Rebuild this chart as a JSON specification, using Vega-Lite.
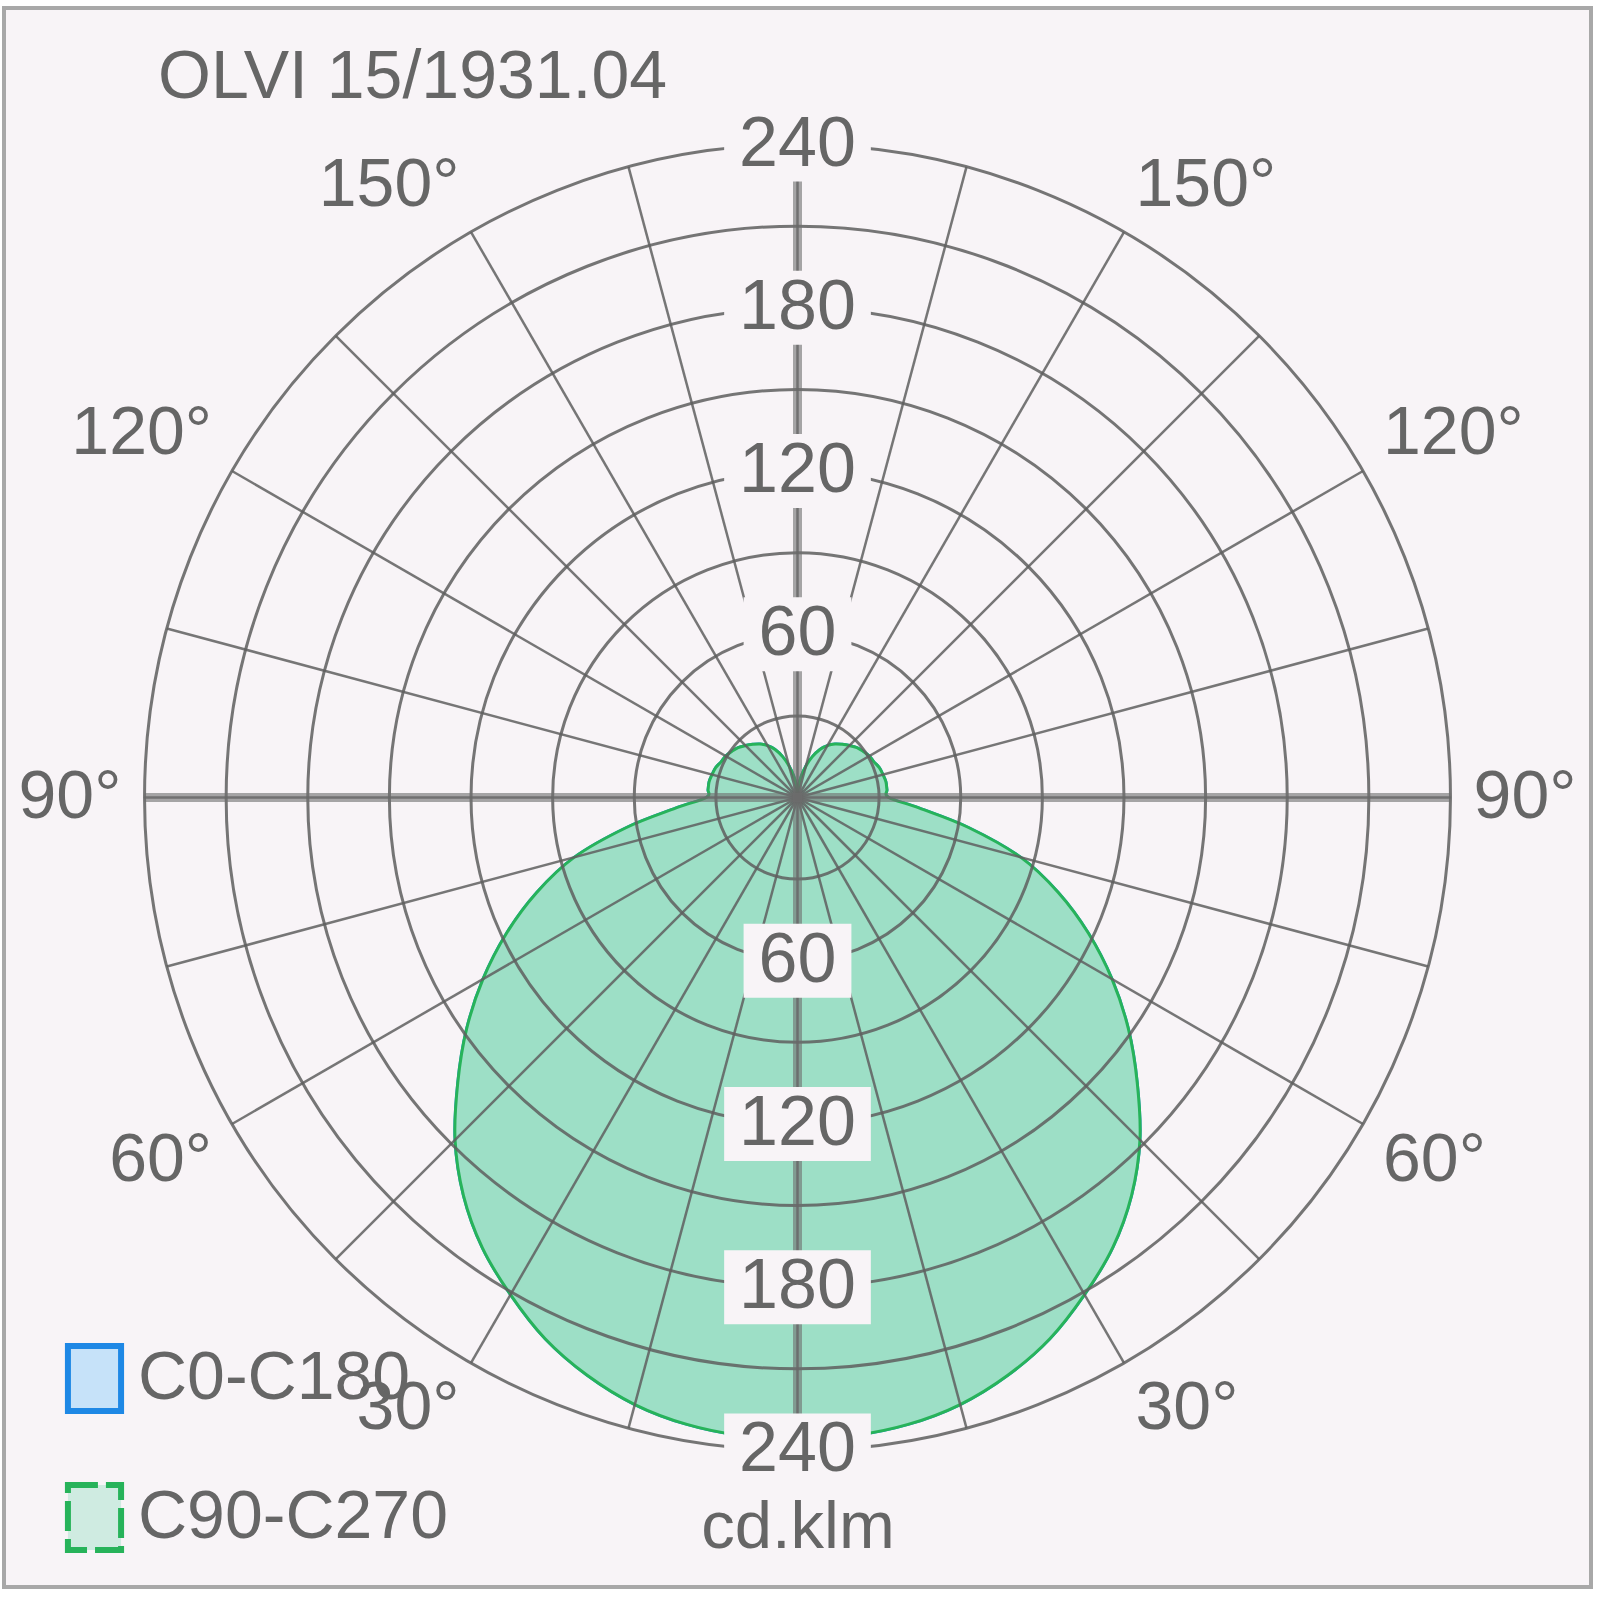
{
  "$schema": "https://vega.github.io/schema/vega-lite/v6.json",
  "width": 1587,
  "height": 1579,
  "autosize": {"type": "none"},
  "padding": {"left": 4, "top": 8, "right": 6, "bottom": 13},
  "background": "#ffffff",
  "config": {
    "view": {"fill": "#f8f4f7", "stroke": "#a8a8a8", "strokeWidth": 4},
    "font": "Liberation Sans",
    "text": {"font": "Liberation Sans"}
  },
  "title": {
    "text": "OLVI 15/1931.04",
    "anchor": "start",
    "frame": "group",
    "orient": "top",
    "offset": 0,
    "dx": 154,
    "dy": 158,
    "fontSize": 68,
    "font": "Liberation Sans",
    "fontWeight": "normal",
    "color": "#666666",
    "baseline": "alphabetic"
  },
  "datasets": {
    "curve": [
      {"angle": -180, "C0-C180": 0, "C90-C270": 0},
      {"angle": -175, "C0-C180": 4, "C90-C270": 4},
      {"angle": -170, "C0-C180": 8, "C90-C270": 8},
      {"angle": -165, "C0-C180": 12, "C90-C270": 12},
      {"angle": -160, "C0-C180": 16, "C90-C270": 16},
      {"angle": -155, "C0-C180": 19.5, "C90-C270": 19.5},
      {"angle": -150, "C0-C180": 22, "C90-C270": 22},
      {"angle": -145, "C0-C180": 24, "C90-C270": 24},
      {"angle": -140, "C0-C180": 25.5, "C90-C270": 25.5},
      {"angle": -135, "C0-C180": 27, "C90-C270": 27},
      {"angle": -130, "C0-C180": 28.5, "C90-C270": 28.5},
      {"angle": -125, "C0-C180": 29.5, "C90-C270": 29.5},
      {"angle": -120, "C0-C180": 30.5, "C90-C270": 30.5},
      {"angle": -115, "C0-C180": 31, "C90-C270": 31},
      {"angle": -110, "C0-C180": 32, "C90-C270": 32},
      {"angle": -105, "C0-C180": 32.5, "C90-C270": 32.5},
      {"angle": -100, "C0-C180": 33, "C90-C270": 33},
      {"angle": -95, "C0-C180": 33, "C90-C270": 33},
      {"angle": -90, "C0-C180": 33.5, "C90-C270": 33.5},
      {"angle": -85, "C0-C180": 45, "C90-C270": 45},
      {"angle": -80, "C0-C180": 64, "C90-C270": 64},
      {"angle": -75, "C0-C180": 85, "C90-C270": 85},
      {"angle": -70, "C0-C180": 102, "C90-C270": 102},
      {"angle": -65, "C0-C180": 118, "C90-C270": 118},
      {"angle": -60, "C0-C180": 133.5, "C90-C270": 133.5},
      {"angle": -55, "C0-C180": 148.5, "C90-C270": 148.5},
      {"angle": -50, "C0-C180": 163, "C90-C270": 163},
      {"angle": -45, "C0-C180": 178, "C90-C270": 178},
      {"angle": -40, "C0-C180": 191, "C90-C270": 191},
      {"angle": -35, "C0-C180": 202, "C90-C270": 202},
      {"angle": -30, "C0-C180": 211, "C90-C270": 211},
      {"angle": -25, "C0-C180": 219.5, "C90-C270": 219.5},
      {"angle": -20, "C0-C180": 226, "C90-C270": 226},
      {"angle": -15, "C0-C180": 231, "C90-C270": 231},
      {"angle": -10, "C0-C180": 234, "C90-C270": 234},
      {"angle": -5, "C0-C180": 235.5, "C90-C270": 235.5},
      {"angle": 0, "C0-C180": 236, "C90-C270": 236},
      {"angle": 5, "C0-C180": 235.5, "C90-C270": 235.5},
      {"angle": 10, "C0-C180": 234, "C90-C270": 234},
      {"angle": 15, "C0-C180": 231, "C90-C270": 231},
      {"angle": 20, "C0-C180": 226, "C90-C270": 226},
      {"angle": 25, "C0-C180": 219.5, "C90-C270": 219.5},
      {"angle": 30, "C0-C180": 211, "C90-C270": 211},
      {"angle": 35, "C0-C180": 202, "C90-C270": 202},
      {"angle": 40, "C0-C180": 191, "C90-C270": 191},
      {"angle": 45, "C0-C180": 178, "C90-C270": 178},
      {"angle": 50, "C0-C180": 163, "C90-C270": 163},
      {"angle": 55, "C0-C180": 148.5, "C90-C270": 148.5},
      {"angle": 60, "C0-C180": 133.5, "C90-C270": 133.5},
      {"angle": 65, "C0-C180": 118, "C90-C270": 118},
      {"angle": 70, "C0-C180": 102, "C90-C270": 102},
      {"angle": 75, "C0-C180": 85, "C90-C270": 85},
      {"angle": 80, "C0-C180": 64, "C90-C270": 64},
      {"angle": 85, "C0-C180": 45, "C90-C270": 45},
      {"angle": 90, "C0-C180": 33.5, "C90-C270": 33.5},
      {"angle": 95, "C0-C180": 33, "C90-C270": 33},
      {"angle": 100, "C0-C180": 33, "C90-C270": 33},
      {"angle": 105, "C0-C180": 32.5, "C90-C270": 32.5},
      {"angle": 110, "C0-C180": 32, "C90-C270": 32},
      {"angle": 115, "C0-C180": 31, "C90-C270": 31},
      {"angle": 120, "C0-C180": 30.5, "C90-C270": 30.5},
      {"angle": 125, "C0-C180": 29.5, "C90-C270": 29.5},
      {"angle": 130, "C0-C180": 28.5, "C90-C270": 28.5},
      {"angle": 135, "C0-C180": 27, "C90-C270": 27},
      {"angle": 140, "C0-C180": 25.5, "C90-C270": 25.5},
      {"angle": 145, "C0-C180": 24, "C90-C270": 24},
      {"angle": 150, "C0-C180": 22, "C90-C270": 22},
      {"angle": 155, "C0-C180": 19.5, "C90-C270": 19.5},
      {"angle": 160, "C0-C180": 16, "C90-C270": 16},
      {"angle": 165, "C0-C180": 12, "C90-C270": 12},
      {"angle": 170, "C0-C180": 8, "C90-C270": 8},
      {"angle": 175, "C0-C180": 4, "C90-C270": 4}
    ],
    "rings": [
      {"r": 30}, {"r": 60}, {"r": 90}, {"r": 120},
      {"r": 150}, {"r": 180}, {"r": 210}, {"r": 240}
    ],
    "spokes": [
      {"a": 0}, {"a": 15}, {"a": 30}, {"a": 45}, {"a": 60}, {"a": 75},
      {"a": 90}, {"a": 105}, {"a": 120}, {"a": 135}, {"a": 150}, {"a": 165},
      {"a": 180}, {"a": 195}, {"a": 210}, {"a": 225}, {"a": 240}, {"a": 255},
      {"a": 270}, {"a": 285}, {"a": 300}, {"a": 315}, {"a": 330}, {"a": 345}
    ],
    "mainaxes": [{"a": 0}, {"a": 90}],
    "valuelabels": [
      {"pos": 60, "label": "60"},
      {"pos": 120, "label": "120"},
      {"pos": 180, "label": "180"},
      {"pos": 240, "label": "240"},
      {"pos": -60, "label": "60"},
      {"pos": -120, "label": "120"},
      {"pos": -180, "label": "180"},
      {"pos": -240, "label": "240"}
    ],
    "anglelabels": [
      {"a": 30, "label": "30°"},
      {"a": 60, "label": "60°"},
      {"a": 90, "label": "90°"},
      {"a": 120, "label": "120°"},
      {"a": 150, "label": "150°"}
    ]
  },
  "encoding": {
    "x": {
      "field": "px",
      "type": "quantitative",
      "scale": {"domain": [-291.65, 291.65], "nice": false, "zero": false},
      "axis": {
        "domain": false,
        "ticks": false,
        "labels": false,
        "grid": false,
        "title": "cd.klm",
        "titleFontSize": 67,
        "titleFont": "Liberation Sans",
        "titleFontWeight": "normal",
        "titleColor": "#666666",
        "titleBaseline": "middle",
        "titleY": -60,
        "titlePadding": 0
      }
    },
    "y": {
      "field": "py",
      "type": "quantitative",
      "scale": {"domain": [-290.2, 290.2], "nice": false, "zero": false},
      "axis": null
    }
  },
  "layer": [
    {
      "data": {"name": "curve"},
      "transform": [
        {"fold": ["C0-C180", "C90-C270"], "as": ["series", "value"]},
        {"calculate": "datum.value * sin(datum.angle * PI / 180)", "as": "px"},
        {"calculate": "-datum.value * cos(datum.angle * PI / 180)", "as": "py"}
      ],
      "mark": {"type": "line", "filled": true, "interpolate": "cardinal-closed", "strokeWidth": 3},
      "encoding": {
        "order": {"field": "angle", "type": "quantitative"},
        "fill": {
          "field": "series",
          "type": "nominal",
          "scale": {"domain": ["C0-C180", "C90-C270"], "range": ["#c6e2f9", "#9ddfc6"]},
          "legend": {
            "title": null,
            "orient": "none",
            "legendX": 55,
            "legendY": 1335,
            "direction": "vertical",
            "symbolType": "M-0.82,-1H0.82V1H-0.82Z",
            "symbolSize": 4200,
            "symbolStrokeWidth": 6,
            "labelFontSize": 68,
            "labelFont": "Liberation Sans",
            "labelColor": "#666666",
            "labelOffset": 8,
            "labelLimit": 1000,
            "rowPadding": 50,
            "encode": {
              "symbols": {
                "update": {
                  "strokeDash": {"signal": "datum.value === 'C90-C270' ? [30, 8] : [1, 0]"},
                  "stroke": {"signal": "datum.value === 'C90-C270' ? '#1db41d' : '#1e88e5'"},
                  "fillOpacity": {"signal": "datum.value === 'C90-C270' ? 0.45 : 1"},
                  "opacity": {"value": 1}
                }
              }
            }
          }
        },
        "stroke": {
          "field": "series",
          "type": "nominal",
          "scale": {"domain": ["C0-C180", "C90-C270"], "range": ["#1e88e5", "#27b35a"]},
          "legend": {
            "title": null,
            "orient": "none",
            "legendX": 55,
            "legendY": 1335,
            "direction": "vertical",
            "symbolType": "M-0.82,-1H0.82V1H-0.82Z",
            "symbolSize": 4200,
            "symbolStrokeWidth": 6,
            "labelFontSize": 68,
            "labelFont": "Liberation Sans",
            "labelColor": "#666666",
            "labelOffset": 8,
            "labelLimit": 1000,
            "rowPadding": 50,
            "encode": {
              "symbols": {
                "update": {
                  "strokeDash": {"signal": "datum.value === 'C90-C270' ? [30, 8] : [1, 0]"},
                  "stroke": {"signal": "datum.value === 'C90-C270' ? '#1db41d' : '#1e88e5'"},
                  "fillOpacity": {"signal": "datum.value === 'C90-C270' ? 0.45 : 1"},
                  "opacity": {"value": 1}
                }
              }
            }
          }
        }
      }
    },
    {
      "data": {"name": "rings"},
      "transform": [
        {"calculate": "0", "as": "px"},
        {"calculate": "0", "as": "py"}
      ],
      "mark": {"type": "point", "shape": "circle", "filled": false, "stroke": "#5f5f5f", "strokeWidth": 3, "opacity": 0.85},
      "encoding": {
        "size": {
          "field": "r",
          "type": "quantitative",
          "scale": {"type": "pow", "exponent": 2, "domain": [0, 240], "range": [0, 1705500], "zero": true},
          "legend": null
        }
      }
    },
    {
      "data": {"name": "spokes"},
      "transform": [
        {"calculate": "0", "as": "px"},
        {"calculate": "0", "as": "py"},
        {"calculate": "240 * sin(datum.a * PI / 180)", "as": "px2"},
        {"calculate": "-240 * cos(datum.a * PI / 180)", "as": "py2"}
      ],
      "mark": {"type": "rule", "stroke": "#5f5f5f", "strokeWidth": 2.5, "opacity": 0.85},
      "encoding": {
        "x2": {"field": "px2"},
        "y2": {"field": "py2"}
      }
    },
    {
      "data": {"name": "mainaxes"},
      "transform": [
        {"calculate": "-240 * sin(datum.a * PI / 180)", "as": "px"},
        {"calculate": "240 * cos(datum.a * PI / 180)", "as": "py"},
        {"calculate": "240 * sin(datum.a * PI / 180)", "as": "px2"},
        {"calculate": "-240 * cos(datum.a * PI / 180)", "as": "py2"}
      ],
      "mark": {"type": "rule", "stroke": "#6e6e6e", "strokeWidth": 9, "opacity": 0.6},
      "encoding": {
        "x2": {"field": "px2"},
        "y2": {"field": "py2"}
      }
    },
    {
      "data": {"name": "valuelabels"},
      "transform": [
        {"calculate": "(length(datum.label) * 38.9 + 30) / 2 / 2.7207", "as": "hw"},
        {"calculate": "-datum.hw", "as": "px"},
        {"calculate": "datum.hw", "as": "px2"},
        {"calculate": "datum.pos - 13.6", "as": "py"},
        {"calculate": "datum.pos + 13.6", "as": "py2"}
      ],
      "mark": {"type": "rect", "fill": "#f8f4f7", "stroke": null},
      "encoding": {
        "x2": {"field": "px2"},
        "y2": {"field": "py2"}
      }
    },
    {
      "data": {"name": "valuelabels"},
      "transform": [
        {"calculate": "0", "as": "px"},
        {"calculate": "datum.pos", "as": "py"}
      ],
      "mark": {"type": "text", "fontSize": 70, "font": "Liberation Sans", "fill": "#666666", "align": "center", "baseline": "middle"},
      "encoding": {
        "text": {"field": "label", "type": "nominal"}
      }
    },
    {
      "data": {"name": "anglelabels"},
      "transform": [
        {"calculate": "248.5 * sin(datum.a * PI / 180)", "as": "px"},
        {"calculate": "-248.5 * cos(datum.a * PI / 180) + (datum.a < 90 ? -9.5 : (datum.a > 90 ? 9.5 : 0))", "as": "py"}
      ],
      "mark": {"type": "text", "fontSize": 68, "font": "Liberation Sans", "fill": "#666666", "align": "left", "baseline": "middle"},
      "encoding": {
        "text": {"field": "label", "type": "nominal"}
      }
    },
    {
      "data": {"name": "anglelabels"},
      "transform": [
        {"calculate": "-248.5 * sin(datum.a * PI / 180)", "as": "px"},
        {"calculate": "-248.5 * cos(datum.a * PI / 180) + (datum.a < 90 ? -9.5 : (datum.a > 90 ? 9.5 : 0))", "as": "py"}
      ],
      "mark": {"type": "text", "fontSize": 68, "font": "Liberation Sans", "fill": "#666666", "align": "right", "baseline": "middle"},
      "encoding": {
        "text": {"field": "label", "type": "nominal"}
      }
    }
  ]
}
